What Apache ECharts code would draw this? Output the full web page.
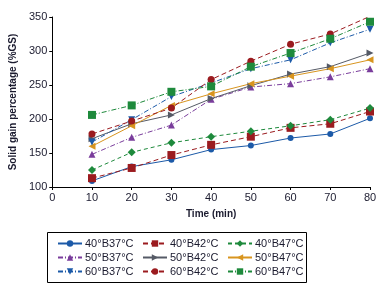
<!DOCTYPE html>
<html>
<head>
<meta charset="utf-8">
<script src="https://cdn.jsdelivr.net/npm/echarts@6/dist/echarts.min.js"></script>
<style>
html, body { margin: 0; padding: 0; background: #fff; }
#container { width: 380px; height: 286px; }
</style>
</head>
<body>
<div id="container"></div>
<script>
var times = [10, 20, 30, 40, 50, 60, 70, 80];
var xTicks = [0, 10, 20, 30, 40, 50, 60, 70, 80];
var yTicks = [100, 150, 200, 250, 300, 350];

var s40B37 = [109, 130, 140, 155, 161, 172, 178, 201];
var s40B42 = [113, 128, 147, 162, 174, 187, 193, 211];
var s40B47 = [125, 151, 165, 174, 182, 190, 199, 216];
var s50B37 = [148, 173, 191, 229, 247, 252, 262, 274];
var s50B42 = [171, 193, 206, 230, 249, 266, 277, 297];
var s50B47 = [160, 190, 220, 237, 252, 263, 274, 287];
var s60B37 = [166, 199, 233, 253, 274, 287, 312, 332];
var s60B42 = [178, 197, 216, 258, 285, 310, 325, 351];
var s60B47 = [206, 220, 240, 248, 277, 297, 318, 343];

var font = '"Liberation Sans", Arial, sans-serif';
var textColor = '#1b1b2f';

function pairs(vals) {
    var out = [];
    for (var i = 0; i < times.length; i++) {
        out.push([times[i], vals[i]]);
    }
    return out;
}

function mk(name, vals, color, symbol, size, lineType, rotate) {
    return {
        name: name,
        type: 'line',
        data: pairs(vals),
        symbol: symbol,
        symbolSize: size,
        symbolRotate: rotate || 0,
        lineStyle: { color: color, width: 1, type: lineType },
        itemStyle: { color: color },
        emphasis: { disabled: true },
        animation: false
    };
}

var dashDot = [5, 2, 1, 2];

var series = [
    mk('40°B37°C', s40B37, '#1c5aa8', 'circle', 6, 'solid'),
    mk('40°B42°C', s40B42, '#9b1b1f', 'rect', 8, [5, 3]),
    mk('40°B47°C', s40B47, '#1e8a3c', 'diamond', 8, [4, 3]),
    mk('50°B37°C', s50B37, '#7a3d9c', 'triangle', 7, dashDot),
    mk('50°B42°C', s50B42, '#555a66', 'triangle', 7, 'solid', -90),
    mk('50°B47°C', s50B47, '#d8951f', 'triangle', 7, 'solid', 90),
    mk('60°B37°C', s60B37, '#1c5aa8', 'triangle', 7, dashDot, 180),
    mk('60°B42°C', s60B42, '#9b1b1f', 'circle', 7, [5, 3]),
    mk('60°B47°C', s60B47, '#1e8a3c', 'rect', 8, dashDot)
];

function legendCol(left, names) {
    return {
        orient: 'vertical',
        left: left,
        top: 238,
        itemWidth: 24,
        itemHeight: 8,
        itemGap: 3,
        padding: 0,
        selectedMode: false,
        data: names,
        textStyle: { fontFamily: font, fontSize: 11, color: textColor, padding: [0, 0, 0, -2] }
    };
}

var myChart = echarts.init(document.getElementById('container'));
var option = {
    backgroundColor: '#fff',
    animation: false,
    grid: { left: 48, right: 10, top: 17, bottom: 99, containLabel: false },
    xAxis: {
        type: 'value',
        min: xTicks[0],
        max: xTicks[xTicks.length - 1],
        interval: 10,
        name: 'Time (min)',
        nameLocation: 'middle',
        nameGap: 22,
        nameTextStyle: { fontFamily: font, fontSize: 10, fontWeight: 'bold', color: textColor },
        axisLine: { lineStyle: { color: '#000', width: 1 } },
        axisTick: { show: true, length: 3, lineStyle: { color: '#000' } },
        axisLabel: { fontFamily: font, fontSize: 11, color: textColor, margin: 5 },
        splitLine: { show: false }
    },
    yAxis: {
        type: 'value',
        min: yTicks[0],
        max: yTicks[yTicks.length - 1],
        interval: 50,
        name: 'Solid gain percentage (%GS)',
        nameLocation: 'middle',
        nameGap: 33,
        nameTextStyle: { fontFamily: font, fontSize: 10, fontWeight: 'bold', color: textColor },
        axisLine: { show: true, lineStyle: { color: '#000', width: 1 } },
        axisTick: { show: true, length: 3, lineStyle: { color: '#000' } },
        axisLabel: { fontFamily: font, fontSize: 11, color: textColor, margin: 5 },
        splitLine: { show: false }
    },
    legend: [
        legendCol(57, ['40°B37°C', '50°B37°C', '60°B37°C']),
        legendCol(142, ['40°B42°C', '50°B42°C', '60°B42°C']),
        legendCol(227, ['40°B47°C', '50°B47°C', '60°B47°C'])
    ],
    graphic: [{
        type: 'rect',
        shape: { x: 47.5, y: 232.5, width: 259, height: 50 },
        style: { fill: 'none', stroke: '#000', lineWidth: 1 },
        silent: true
    }],
    series: series
};
myChart.setOption(option);
</script>
</body>
</html>
